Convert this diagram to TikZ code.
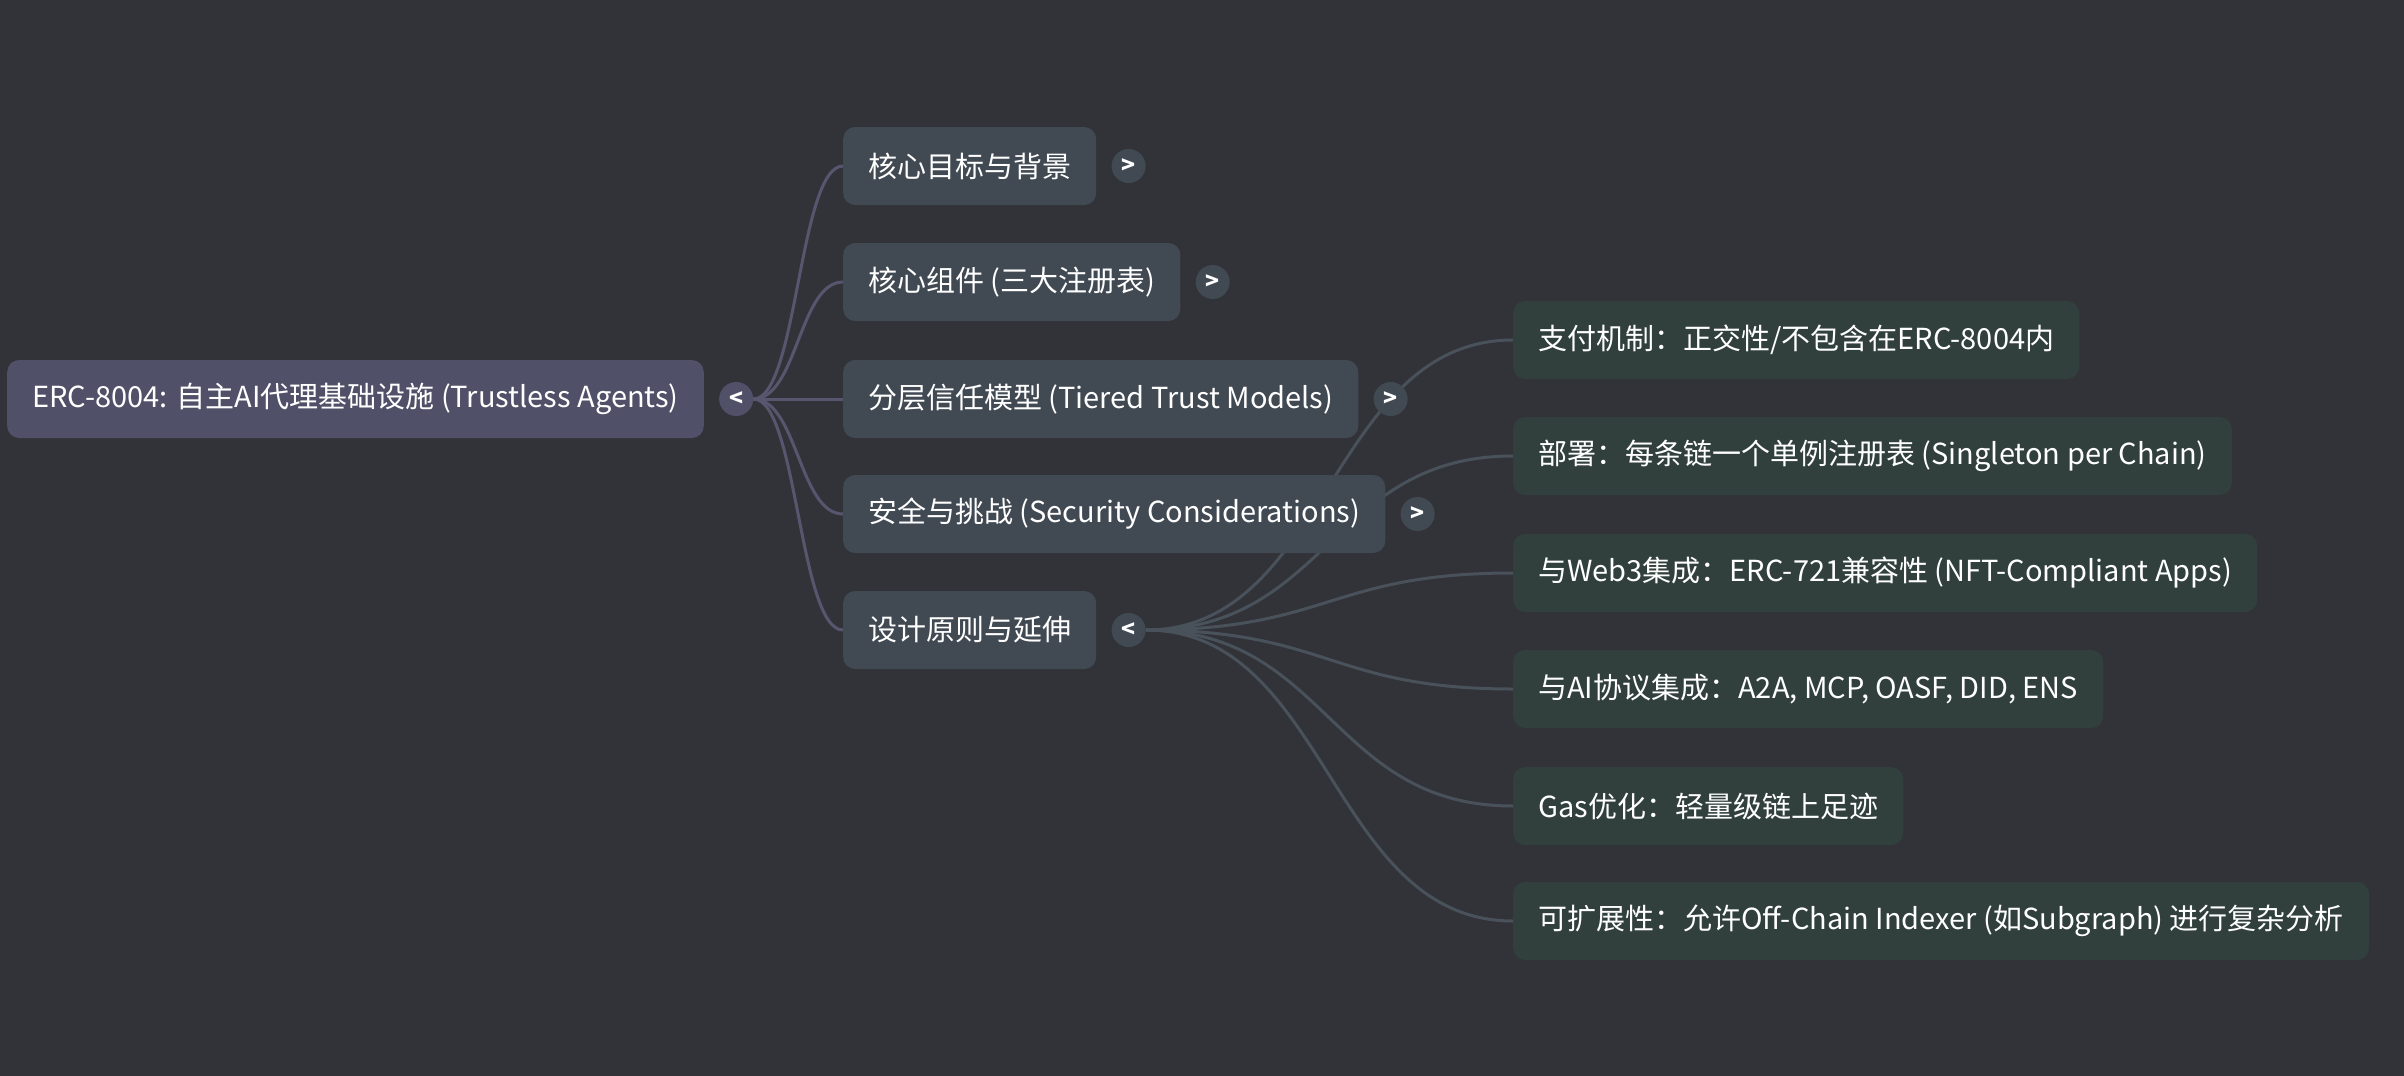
\documentclass[tikz,border=0pt]{standalone}
\usepackage{fontspec}
\setmainfont{Noto Sans CJK SC}
\usetikzlibrary{positioning}

\definecolor{bgdark}{HTML}{323338}
\definecolor{rootfill}{HTML}{505168}
\definecolor{topicfill}{HTML}{414953}
\definecolor{leaffill}{HTML}{31403D}
\definecolor{rootline}{HTML}{57566F}
\definecolor{leafline}{HTML}{49515B}

\newcommand{\boxfont}{\fontsize{29}{35}\selectfont}
\newcommand{\togglefont}{\fontsize{23}{26}\selectfont\bfseries}

\pgfdeclarelayer{backdrop}
\pgfdeclarelayer{links}
\pgfsetlayers{backdrop,links,main}

\tikzset{
  mapbox/.style={rounded corners=12pt, text=white, inner xsep=25pt,
    minimum height=78pt, anchor=west, font=\boxfont},
  rootbox/.style={mapbox, fill=rootfill},
  topicbox/.style={mapbox, fill=topicfill},
  leafbox/.style={mapbox, fill=leaffill},
  toggle/.style={circle, minimum size=34pt, inner sep=0pt, text=white, font=\togglefont},
  roottoggle/.style={toggle, fill=rootfill},
  topictoggle/.style={toggle, fill=topicfill},
  rootlink/.style={draw=rootline, line width=3pt},
  leaflink/.style={draw=leafline, line width=3pt}
}

\begin{document}
\begin{tikzpicture}[x=1pt,y=-1pt]
    \begin{pgfonlayer}{backdrop}
        \fill[bgdark] (0,0) rectangle (2404,1076);
    \end{pgfonlayer}
    \useasboundingbox (0,0) rectangle (2404,1076);

    % root
    \node[rootbox] (erc) at (7,399) {ERC-8004: 自主AI代理基础设施 (Trustless Agents)};
    \node[roottoggle, right=15pt of erc] (erct) {<};

    % first level
    \node[topicbox] (goal) at (843,166) {核心目标与背景};
    \node[topictoggle, right=15pt of goal] (goalt) {>};
    \node[topicbox] (parts) at (843,282) {核心组件 (三大注册表)};
    \node[topictoggle, right=15pt of parts] (partst) {>};
    \node[topicbox] (trust) at (843,399) {分层信任模型 (Tiered Trust Models)};
    \node[topictoggle, right=15pt of trust] (trustt) {>};
    \node[topicbox] (secu) at (843,514) {安全与挑战 (Security Considerations)};
    \node[topictoggle, right=15pt of secu] (secut) {>};
    \node[topicbox] (design) at (843,630) {设计原则与延伸};
    \node[topictoggle, right=15pt of design] (designt) {<};

    % second level
    \node[leafbox] (pay) at (1513,340) {支付机制：正交性/不包含在ERC-8004内};
    \node[leafbox] (deploy) at (1513,456) {部署：每条链一个单例注册表 (Singleton per Chain)};
    \node[leafbox] (webthree) at (1513,573) {与Web3集成：ERC-721兼容性 (NFT-Compliant Apps)};
    \node[leafbox] (aiproto) at (1513,689) {与AI协议集成：A2A, MCP, OASF, DID, ENS};
    \node[leafbox] (gas) at (1513,806) {Gas优化：轻量级链上足迹};
    \node[leafbox] (scale) at (1513,921) {可扩展性：允许Off-Chain Indexer (如Subgraph) 进行复杂分析};

    \begin{pgfonlayer}{links}
        \draw[rootlink] (erct.east) .. controls +(44,0) and +(-44,0) .. (goal.west);
        \draw[rootlink] (erct.east) .. controls +(44,0) and +(-44,0) .. (parts.west);
        \draw[rootlink] (erct.east) .. controls +(44,0) and +(-44,0) .. (trust.west);
        \draw[rootlink] (erct.east) .. controls +(44,0) and +(-44,0) .. (secu.west);
        \draw[rootlink] (erct.east) .. controls +(44,0) and +(-44,0) .. (design.west);

        \draw[leaflink] (designt.east) .. controls +(183,0) and +(-183,0) .. (pay.west);
        \draw[leaflink] (designt.east) .. controls +(183,0) and +(-183,0) .. (deploy.west);
        \draw[leaflink] (designt.east) .. controls +(183,0) and +(-183,0) .. (webthree.west);
        \draw[leaflink] (designt.east) .. controls +(183,0) and +(-183,0) .. (aiproto.west);
        \draw[leaflink] (designt.east) .. controls +(183,0) and +(-183,0) .. (gas.west);
        \draw[leaflink] (designt.east) .. controls +(183,0) and +(-183,0) .. (scale.west);
    \end{pgfonlayer}
\end{tikzpicture}
\end{document}
